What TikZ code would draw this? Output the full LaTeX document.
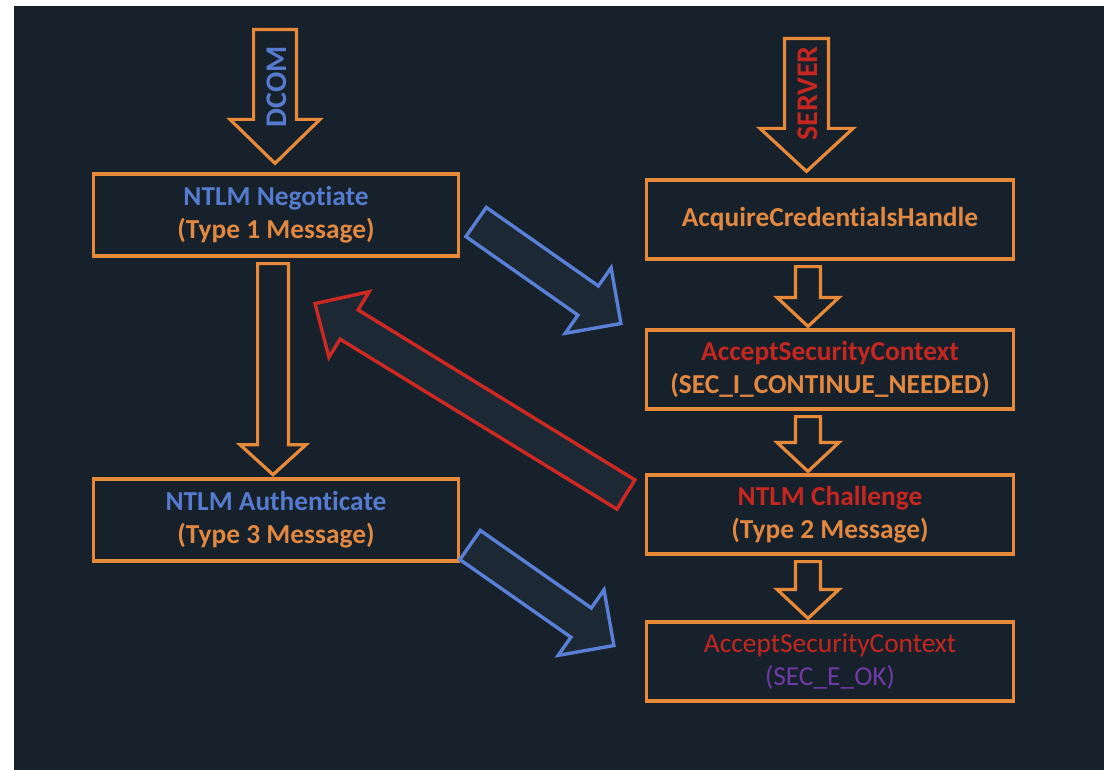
\documentclass[tikz,border=0pt]{standalone}
\usepackage{fontspec}
\setmainfont{Carlito}[Ligatures={NoCommon}]
\usetikzlibrary{calc}

\definecolor{bgdark}{RGB}{23,33,43}
\definecolor{arrowfill}{RGB}{29,40,53}
\definecolor{boxorange}{RGB}{232,137,58}
\definecolor{txtorange}{RGB}{226,136,64}
\definecolor{txtblue}{RGB}{86,122,205}
\definecolor{arrowblue}{RGB}{90,127,215}
\definecolor{txtred}{RGB}{198,38,32}
\definecolor{arrowred}{RGB}{205,40,34}
\definecolor{txtpurple}{RGB}{112,58,165}

% Block arrow: #1 style, #2 tail point, #3 tip point,
% #4 shaft half width, #5 head half width, #6 head length
\newcommand{\blockarrow}[6]{%
  \coordinate (ba-s) at (#2);
  \coordinate (ba-e) at (#3);
  \coordinate (ba-b) at ($(ba-e)!#6!(ba-s)$);
  \draw[#1] ($(ba-s)!#4!90:(ba-e)$) -- ($(ba-b)!#4!90:(ba-e)$)
    -- ($(ba-b)!#5!90:(ba-e)$) -- (ba-e) -- ($(ba-b)!#5!-90:(ba-e)$)
    -- ($(ba-b)!#4!-90:(ba-e)$) -- ($(ba-s)!#4!-90:(ba-e)$) -- cycle;
}

\tikzset{
  msgbox/.style={draw=boxorange, line width=3.2pt, align=center,
    inner sep=0pt, font=\bfseries\fontsize{27.4}{33}\selectfont},
  leftbox/.style={msgbox, minimum width=365pt, minimum height=82pt},
  rightbox/.style={msgbox, minimum width=367pt, minimum height=79pt},
  flowarrow/.style={draw=boxorange, line width=3.2pt, miter limit=10},
  bluearrow/.style={draw=arrowblue, fill=arrowfill, line width=3.4pt, miter limit=10},
  redarrow/.style={draw=arrowred, fill=arrowfill, line width=3.4pt, miter limit=10},
  sidelabel/.style={rotate=90, font=\bfseries\fontsize{30}{34}\selectfont, inner sep=0pt}
}

\begin{document}
\begin{tikzpicture}[x=1pt, y=-1pt]
  % canvas
  \fill[white] (0,0) rectangle (1105,770);
  \fill[bgdark] (14,6) rectangle (1104,770);
  \useasboundingbox (0,0) rectangle (1105,770);

  % client side
  \node[leftbox] (neg) at (276,215)
    {\textcolor{txtblue}{NTLM Negotiate}\\\textcolor{txtorange}{(Type 1 Message)}};
  \node[leftbox] (auth) at (276,520)
    {\textcolor{txtblue}{NTLM Authenticate}\\\textcolor{txtorange}{(Type 3 Message)}};

  % server side
  \node[rightbox] (acq) at (830,219.5)
    {\textcolor{txtorange}{AcquireCredentialsHandle}};
  \node[rightbox] (acc) at (830,369.5)
    {\textcolor{txtred}{AcceptSecurityContext}\\\textcolor{txtorange}{(SEC\_I\_CONTINUE\_NEEDED)}};
  \node[rightbox] (chal) at (830,514.5)
    {\textcolor{txtred}{NTLM Challenge}\\\textcolor{txtorange}{(Type 2 Message)}};
  \node[rightbox, font=\fontsize{27.4}{33}\selectfont] (ok) at (830,661.5)
    {\textcolor{txtred}{AcceptSecurityContext}\\\textcolor{txtpurple}{(SEC\_E\_OK)}};

  % entry arrows
  \coordinate (dcomtop) at (275,29.6);
  \coordinate (srvtop) at (806.5,38.6);
  \blockarrow{flowarrow}{dcomtop}{$(neg.north)+(-1,-9)$}{21.4pt}{45pt}{44pt}
  \node[sidelabel, text=txtblue] (dcom) at (277,87) {DCOM};
  \blockarrow{flowarrow}{srvtop}{$(acq.north)+(-23.5,-7)$}{21.9pt}{46.5pt}{43pt}
  \node[sidelabel, text=txtred] (srv) at (808,93.5) {SERVER};

  % client flow
  \blockarrow{flowarrow}{$(neg.south)+(-3,6)$}{$(auth.north)+(-3,-2.7)$}{15.4pt}{33pt}{30pt}

  % server flow
  \blockarrow{flowarrow}{$(acq.south)+(-22,6)$}{$(acc.north)+(-22,-2)$}{12.5pt}{31pt}{29pt}
  \blockarrow{flowarrow}{$(acc.south)+(-22,6)$}{$(chal.north)+(-22,-2)$}{12.5pt}{31pt}{29pt}
  \blockarrow{flowarrow}{$(chal.south)+(-22,6)$}{$(ok.north)+(-22,-2)$}{12.5pt}{31pt}{29pt}

  % messages between client and server
  \blockarrow{bluearrow}{$(neg.east)+(16,7)$}{$(acc.west)+(-24,-46)$}{17.8pt}{40pt}{40pt}
  \blockarrow{redarrow}{$(chal.west)+(-19,-20)$}{$(neg.south)+(39,46)$}{17.2pt}{38.5pt}{40pt}
  \blockarrow{bluearrow}{$(auth.east)+(10,25)$}{$(ok.west)+(-31,-16)$}{17.8pt}{40pt}{40pt}
\end{tikzpicture}
\end{document}
